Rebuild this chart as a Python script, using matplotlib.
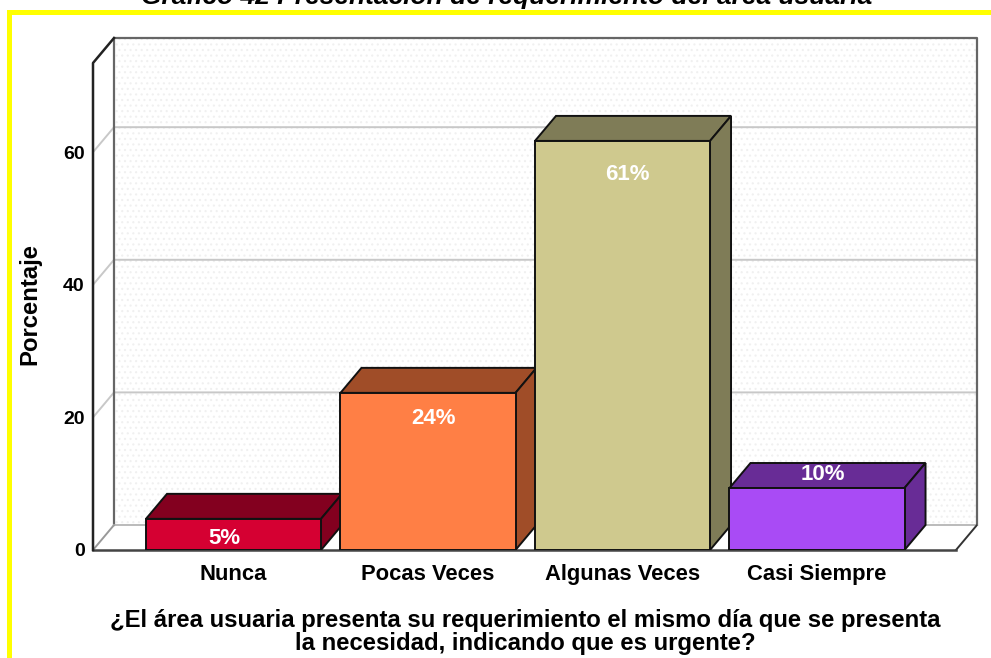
import matplotlib
matplotlib.use('Agg')
import matplotlib.pyplot as plt
from matplotlib.patches import Polygon, Rectangle

plt.rcParams['font.family'] = ['Liberation Sans', 'DejaVu Sans']
plt.rcParams['hatch.linewidth'] = 0.8

categories = ['Nunca', 'Pocas Veces', 'Algunas Veces', 'Casi Siempre']
heights = [4.7, 23.7, 61.7, 9.35]
bar_labels = ['5%', '24%', '61%', '10%']
yticks = [0, 20, 40, 60]
front_colors = ['#D50032', '#FF7F45', '#CFC98E', '#A94BF5']
top_colors = ['#83001F', '#A04D28', '#7F7C57', '#682C96']

title = 'Gráfico 42 Presentación de requerimiento del área usuaria'
xlabel = '¿El área usuaria presenta su requerimiento el mismo día que se presenta\nla necesidad, indicando que es urgente?'

# depth of the fake 3d box, in data units
dx = 0.108
dy = 3.77
width = 0.9
ymax = 73.45
x0, x1 = -0.7224, 3.8226

fig = plt.figure(figsize=(9.91, 6.58), dpi=100)
W, H = 991.0, 658.0
ax = fig.add_axes([93 / W, 1 - 550 / H, (977 - 93) / W, (550 - 38) / H])
ax.set_xlim(x0, x1)
ax.set_ylim(0, ymax + dy)
for s in ax.spines.values():
    s.set_visible(False)

# yellow frame
fig.add_artist(Rectangle((7 / W, 0), 5 / W, 1 - 10 / H, color='#FFFF00', lw=0, transform=fig.transFigure))
fig.add_artist(Rectangle((7 / W, 1 - 15 / H), 1 - 7 / W, 5 / H, color='#FFFF00', lw=0, transform=fig.transFigure))

xr = x1 - dx

# walls and floor
ax.add_patch(Rectangle((x0 + dx, dy), xr - x0, ymax, fc='white', ec='none', zorder=1))
ax.add_patch(Rectangle((x0 + dx, dy), xr - x0, ymax, fc='white', ec='#F0F0F0', hatch='...', lw=0, zorder=1.1))
ax.plot([x0 + dx, x0 + dx, x1, x1], [dy, ymax + dy, ymax + dy, dy], color='#666666', lw=1.6, zorder=2, clip_on=False)
ax.plot([x0 + dx, x1], [dy, dy], color='#BBBBBB', lw=1.4, zorder=2)

for t in yticks[1:]:
    ax.plot([x0, x0 + dx, x1], [t, t + dy, t + dy], color='#C8C8C8', lw=1.4, zorder=1.5)
ax.plot([x0, x0 + dx], [0, dy], color='#999999', lw=1.4, zorder=2)
ax.plot([xr, x1], [0, dy], color='#333333', lw=1.4, zorder=2)
ax.plot([x0, xr], [0, 0], color='#444444', lw=1.8, zorder=2, clip_on=False)
ax.plot([x0, x0, x0 + dx], [0, ymax, ymax + dy], color='#222222', lw=1.8, zorder=3, clip_on=False)

# bars
for i, h in enumerate(heights):
    l = i - width / 2
    r = i + width / 2
    ax.add_patch(Polygon([(l, h), (l + dx, h + dy), (r + dx, h + dy), (r, h)],
                         fc=top_colors[i], ec='#111111', lw=1.4, zorder=4 + i))
    ax.add_patch(Polygon([(r, 0), (r + dx, dy), (r + dx, h + dy), (r, h)],
                         fc=top_colors[i], ec='#111111', lw=1.4, zorder=4 + i))
    ax.add_patch(Rectangle((l, 0), width, h, fc=front_colors[i], ec='#111111', lw=1.4, zorder=4.5 + i))

# labels are not all inside the bar at the same spot
label_dx = [-9, 5, 5, 6]
label_dy = [-20, -26, -34, 14]
for i, h in enumerate(heights):
    ax.annotate(bar_labels[i], (i, h), xytext=(label_dx[i] * 0.72, label_dy[i] * 0.72),
                textcoords='offset points', ha='center', va='center', color='white',
                fontsize=16, fontweight='bold', zorder=20)

ax.set_xticks(range(len(categories)))
ax.set_xticklabels(categories, fontsize=15.8, fontweight='bold')
ax.set_yticks(yticks)
ax.set_yticklabels(yticks, fontsize=14, fontweight='bold')
ax.tick_params(axis='both', length=0)
ax.tick_params(axis='x', pad=10)
ax.tick_params(axis='y', pad=6)

fig.text(30 / W, 1 - 304 / H, 'Porcentaje', rotation=90, ha='center', va='center', fontsize=17.2, fontweight='bold')
fig.text(525 / W, 1 - 632 / H, xlabel, ha='center', va='center', fontsize=17.2, fontweight='bold', linespacing=1.03)
fig.text(507 / W, 1 + 3 / H, title, ha='center', va='center', fontsize=19, fontweight='bold', style='italic')

fig.savefig('out.png', dpi=100)
